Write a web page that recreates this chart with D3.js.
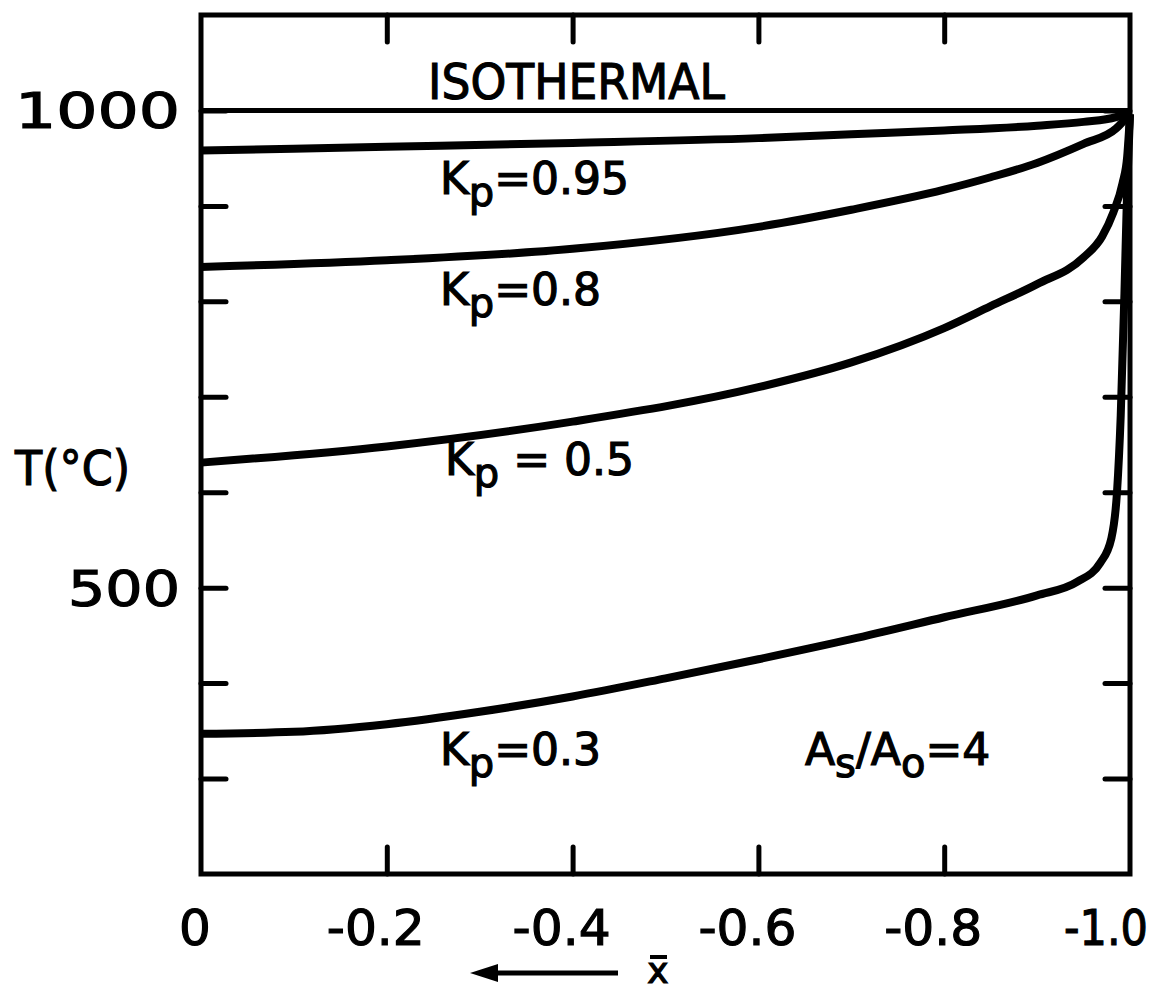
<!DOCTYPE html>
<html>
<head>
<meta charset="utf-8">
<script src="https://cdn.jsdelivr.net/npm/d3@7"></script>
<style>
  body { margin: 0; background: #fff; }
  text { font-family: "DejaVu Sans", sans-serif; fill: #000; stroke: #000; stroke-width: 1.2px; }
</style>
</head>
<body>
<svg id="chart"></svg>
<script>
// plot box (pixels inside the svg)
let outerWidth = 1162;
let outerHeight = 992;
let plotLeft = 201, plotRight = 1130, plotTop = 15, plotBottom = 874;

// data
const xTicks = [0, -0.2, -0.4, -0.6, -0.8, -1.0];
const xTickLabels = ["0", "-0.2", "-0.4", "-0.6", "-0.8", "-1.0"];
const yTicks = [200, 300, 400, 500, 600, 700, 800, 900, 1000, 1100];
const yTickLabels = ["500", "1000"];
const yTickLabelValues = [500, 1000];

const isoX = [0, -1.0];
const isoT = [1000, 1000];

const kp095X = [0, -0.2, -0.4, -0.6, -0.7, -0.8, -0.9, -0.95, -0.985, -1.0];
const kp095T = [958, 962, 966, 971, 975, 979, 984, 988, 993, 999];

const kp08X = [0, -0.2, -0.4, -0.6, -0.7, -0.8, -0.85, -0.9, -0.95, -0.985, -1.0];
const kp08T = [836, 843, 855, 878, 896, 917, 930, 945, 965, 981, 997];

const kp05X = [0, -0.2, -0.4, -0.6, -0.7, -0.8, -0.85, -0.9, -0.95, -0.97, -0.982, -0.992, -0.997, -1.0];
const kp05T = [631, 648, 674, 710, 736, 772, 795, 818, 846, 868, 893, 924, 952, 996];

const kp03X = [0, -0.1, -0.2, -0.3, -0.4, -0.5, -0.6, -0.7, -0.8, -0.9, -0.943, -0.968, -0.98, -0.986, -0.99, -0.994, -0.997, -1.0];
const kp03T = [347, 349, 357, 370, 386, 405, 425, 446, 469, 492, 506, 526, 552, 600, 680, 808, 920, 996];

const series = [
  {x: kp095X, t: kp095T},
  {x: kp08X, t: kp08T},
  {x: kp05X, t: kp05T},
  {x: kp03X, t: kp03T}
];

let svg = d3.select('#chart')
  .attr('width', outerWidth)
  .attr('height', outerHeight);

let xScale = d3.scaleLinear().domain([0, -1]).range([plotLeft, plotRight]);
let yScale = d3.scaleLinear().domain([200, 1100]).range([plotBottom, plotTop]);

// frame with inward ticks on all four sides
let tickLen = 27;
svg.append('g')
  .attr('transform', `translate(0,${plotBottom})`)
  .call(d3.axisBottom(xScale).tickValues(xTicks.slice(1, -1)).tickSizeInner(-tickLen).tickSizeOuter(0).tickFormat(''))
  .call(g => g.select('.domain').remove());
svg.append('g')
  .attr('transform', `translate(0,${plotTop})`)
  .call(d3.axisTop(xScale).tickValues(xTicks.slice(1, -1)).tickSizeInner(-tickLen).tickSizeOuter(0).tickFormat(''))
  .call(g => g.select('.domain').remove());
svg.append('g')
  .attr('transform', `translate(${plotLeft},0)`)
  .call(d3.axisLeft(yScale).tickValues(yTicks.slice(1, -1)).tickSizeInner(-25).tickSizeOuter(0).tickFormat(''))
  .call(g => g.select('.domain').remove());
svg.append('g')
  .attr('transform', `translate(${plotRight},0)`)
  .call(d3.axisRight(yScale).tickValues(yTicks.slice(1, -1)).tickSizeInner(-25).tickSizeOuter(0).tickFormat(''))
  .call(g => g.select('.domain').remove());
svg.selectAll('.tick line')
  .attr('stroke', '#000')
  .attr('stroke-width', 5)
  .attr('stroke-linecap', 'round');

svg.append('rect')
  .attr('x', plotLeft)
  .attr('y', plotTop)
  .attr('width', plotRight - plotLeft)
  .attr('height', plotBottom - plotTop)
  .attr('fill', 'none')
  .attr('stroke', '#000')
  .attr('stroke-width', 5);

// tick labels (the digits sit on the tick, the minus hangs to the left)
svg.append('g').selectAll('text')
  .data(xTicks)
  .enter().append('text')
  .attr('x', (d, i) => i === 0 ? xScale(d) - 6 : (i === xTicks.length - 1 ? xScale(d) - 24 : xScale(d) - 11))
  .attr('y', 945)
  .attr('text-anchor', 'middle')
  .attr('textLength', (d, i) => i === 0 ? null : (i === xTicks.length - 1 ? 84 : 98))
  .attr('lengthAdjust', 'spacingAndGlyphs')
  .style('font-size', '50px')
  .text((d, i) => xTickLabels[i]);

svg.append('g').selectAll('text')
  .data(yTickLabelValues)
  .enter().append('text')
  .attr('x', 180)
  .attr('y', d => yScale(d) + 18)
  .attr('text-anchor', 'end')
  .attr('textLength', d => d === 1000 ? 165 : 112)
  .attr('lengthAdjust', 'spacingAndGlyphs')
  .style('font-size', '50px')
  .text((d, i) => yTickLabels[i]);

// curves
let line = d3.line()
  .x(d => xScale(d[0]))
  .y(d => yScale(d[1]))
  .curve(d3.curveMonotoneX);

svg.append('path')
  .attr('d', line(d3.zip(isoX, isoT)))
  .attr('fill', 'none')
  .attr('stroke', '#000')
  .attr('stroke-width', 5);

svg.append('g').selectAll('path')
  .data(series)
  .enter().append('path')
  .attr('d', s => line(d3.zip(s.x, s.t)))
  .attr('fill', 'none')
  .attr('stroke', '#000')
  .attr('stroke-width', 8)
  .attr('stroke-linejoin', 'round');

// labels inside the plot
svg.append('text')
  .attr('x', 428).attr('y', 99)
  .attr('textLength', 297)
  .attr('lengthAdjust', 'spacingAndGlyphs')
  .style('font-size', '50px')
  .text('ISOTHERMAL');

function subLabel(x, y, main, sub, rest) {
  let t = svg.append('text')
    .attr('x', x).attr('y', y)
    .style('font-size', '44px');
  t.append('tspan').text(main);
  t.append('tspan').attr('dy', 12).style('font-size', '40px').text(sub);
  t.append('tspan').attr('dy', -12).text(rest);
  return t;
}

subLabel(440, 194, 'K', 'p', '=0.95');
subLabel(440, 305, 'K', 'p', '=0.8');
subLabel(445, 475, 'K', 'p', ' = 0.5');
subLabel(440, 765, 'K', 'p', '=0.3');

let as = svg.append('text')
  .attr('x', 805).attr('y', 765)
  .style('font-size', '44px');
as.append('tspan').text('A');
as.append('tspan').attr('dy', 12).style('font-size', '40px').text('s');
as.append('tspan').attr('dy', -12).text('/A');
as.append('tspan').attr('dy', 12).style('font-size', '40px').text('o');
as.append('tspan').attr('dy', -12).text('=4');

// axis titles
svg.append('text')
  .attr('x', 15).attr('y', 485)
  .attr('textLength', 115)
  .attr('lengthAdjust', 'spacingAndGlyphs')
  .style('font-size', '48px')
  .text('T(°C)');

svg.append('line')
  .attr('x1', 618).attr('y1', 973)
  .attr('x2', 482).attr('y2', 973)
  .attr('stroke', '#000')
  .attr('stroke-width', 5);
svg.append('path')
  .attr('d', 'M470,973 L498,964 L498,982 Z')
  .attr('fill', '#000');

// x with an overbar
svg.append('text')
  .attr('x', 658).attr('y', 983)
  .attr('text-anchor', 'middle')
  .style('font-size', '36px')
  .text('x');
svg.append('line')
  .attr('x1', 650).attr('y1', 957)
  .attr('x2', 667).attr('y2', 957)
  .attr('stroke', '#000')
  .attr('stroke-width', 4);
</script>
</body>
</html>
